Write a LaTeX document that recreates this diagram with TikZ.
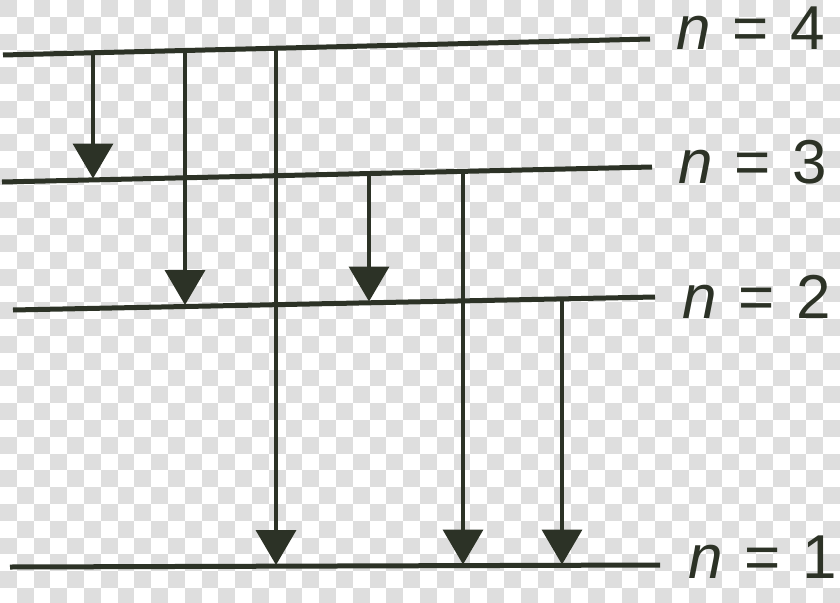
\documentclass[tikz,border=0pt]{standalone}
\usepackage{fontspec}
\setmainfont{Liberation Sans}
\usetikzlibrary{arrows.meta}
\definecolor{ink}{RGB}{44,50,38}
\definecolor{chk}{RGB}{222,222,222}
\tikzset{
  level/.style={draw=ink, line width=5pt, line cap=butt},
  trans/.style={draw=ink, line width=3.8pt, -{Triangle[length=35pt,width=40pt]}, fill=ink},
  lab/.style={anchor=base west, inner sep=0pt, text=ink, font=\fontsize{62}{62}\selectfont}
}
\begin{document}
\begin{tikzpicture}[x=1pt,y=-1pt]
\useasboundingbox (0,0) rectangle (840,602);
\clip (0,0) rectangle (840,602);
% checkerboard background
\fill[white] (0,0) rectangle (840,602);
\foreach \i in {0,2,...,48}{
  \foreach \j in {0,2,...,34}{
    \fill[chk] (\i*16.8,\j*16.8) rectangle +(16.8,16.8);
    \fill[chk] (\i*16.8+16.8,\j*16.8+16.8) rectangle +(16.8,16.8);
  }
}
% energy levels
\coordinate (L4a) at (3,55);   \coordinate (L4b) at (650,39);
\coordinate (L3a) at (2,182);  \coordinate (L3b) at (652,167);
\coordinate (L2a) at (13,310); \coordinate (L2b) at (655,297);
\coordinate (L1a) at (10,567); \coordinate (L1b) at (660,565);
\draw[level] (L4a) -- (L4b);
\draw[level] (L3a) -- (L3b);
\draw[level] (L2a) -- (L2b);
\draw[level] (L1a) -- (L1b);
% transition end points
\coordinate (a1s) at (93,52.8);  \coordinate (a1e) at (93,178.5);
\coordinate (a2s) at (185,50.5); \coordinate (a2e) at (185,305);
\coordinate (a3s) at (276,48.3); \coordinate (a3e) at (276,565);
\coordinate (a4s) at (369,173.5);\coordinate (a4e) at (369,301.5);
\coordinate (a5s) at (463,171.4);\coordinate (a5e) at (463,564.5);
\coordinate (a6s) at (562,298.9);\coordinate (a6e) at (562,564.5);
\draw[trans] (a1s) -- (a1e);
\draw[trans] (a2s) -- (a2e);
\draw[trans] (a3s) -- (a3e);
\draw[trans] (a4s) -- (a4e);
\draw[trans] (a5s) -- (a5e);
\draw[trans] (a6s) -- (a6e);
% labels
\node[lab] (lab4) at (676,50) {\textit{n}\hspace{22pt}=\hspace{22pt}4};
\node[lab] (lab3) at (678,183) {\textit{n}\hspace{22pt}=\hspace{22pt}3};
\node[lab] (lab2) at (682,318) {\textit{n}\hspace{22pt}=\hspace{22pt}2};
\node[lab] (lab1) at (688,578) {\textit{n}\hspace{22pt}=\hspace{22pt}1};
\end{tikzpicture}
\end{document}
